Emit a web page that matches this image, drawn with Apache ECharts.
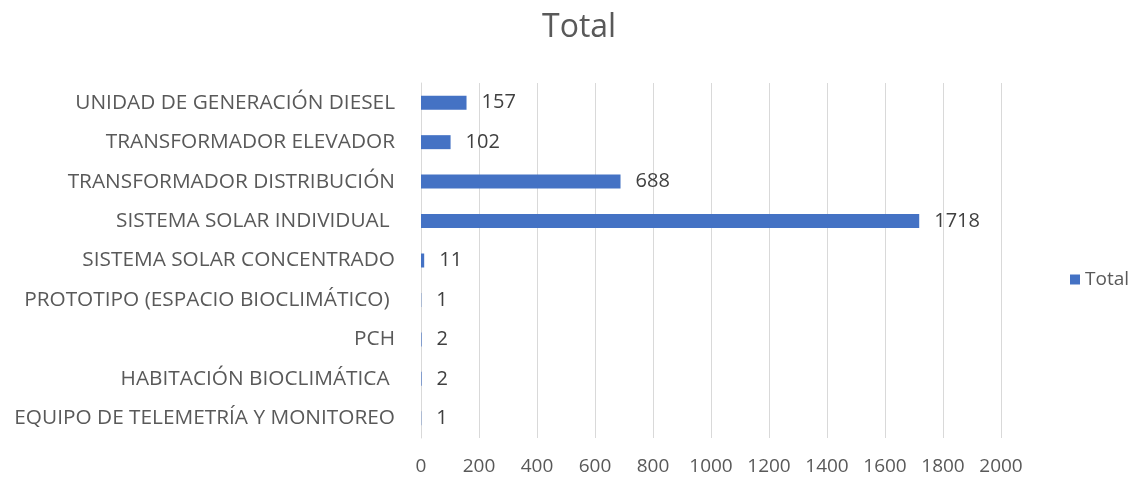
<!doctype html>
<html lang="es">
<head>
    <meta charset="UTF-8">
    <title>Total</title>
    <style>
        *{
            margin:0;
            padding:0;
        }
        html,body {
            height:100%;
            background:#fff;
        }
        #main{
            width:1134px;
            height:478px;
        }
    </style>
</head>
<body>

<div id="main"></div>
<script src="https://cdn.jsdelivr.net/npm/echarts@6/dist/echarts.min.js"></script>
<script>

    // categories listed bottom to top (category axis starts at the bottom)
    var categories = [
        'EQUIPO DE TELEMETRÍA Y MONITOREO',
        'HABITACIÓN BIOCLIMÁTICA ',
        'PCH',
        'PROTOTIPO (ESPACIO BIOCLIMÁTICO) ',
        'SISTEMA SOLAR CONCENTRADO',
        'SISTEMA SOLAR INDIVIDUAL ',
        'TRANSFORMADOR DISTRIBUCIÓN',
        'TRANSFORMADOR ELEVADOR',
        'UNIDAD DE GENERACIÓN DIESEL'
    ];
    var totals = [1, 2, 2, 1, 11, 1718, 688, 102, 157];

    var font = '"Open Sans", "Noto Sans", sans-serif';

    var myChart = echarts.init(document.getElementById('main'));

    myChart.setOption({
        animation: false,
        title: {
            text: 'Total',
            left: 537,
            top: 7,
            textStyle: {
                fontFamily: font,
                fontSize: 32,
                fontWeight: 'normal',
                color: '#595959'
            }
        },
        legend: {
            orient: 'vertical',
            left: 1065,
            top: 265,
            itemWidth: 10,
            itemHeight: 10,
            itemGap: 6,
            icon: 'rect',
            data: ['Total'],
            textStyle: {
                fontFamily: font,
                fontSize: 19,
                color: '#595959'
            }
        },
        grid: {
            left: 421,
            right: 133,
            top: 83,
            bottom: 40
        },
        xAxis: {
            type: 'value',
            min: 0,
            max: 2000,
            interval: 200,
            axisLine: { show: false },
            axisTick: { show: false },
            splitLine: {
                lineStyle: { color: '#d9d9d9', width: 1 }
            },
            axisLabel: {
                margin: 19,
                fontFamily: font,
                fontSize: 19,
                color: '#595959',
                formatter: function (v) { return String(v); }
            }
        },
        yAxis: {
            type: 'category',
            data: categories,
            axisLine: {
                show: true,
                lineStyle: { color: '#d9d9d9' }
            },
            axisTick: { show: false },
            axisLabel: {
                margin: 26,
                fontFamily: font,
                fontSize: 20.8,
                color: '#595959'
            }
        },
        series: [{
            name: 'Total',
            type: 'bar',
            data: totals,
            barWidth: 14,
            itemStyle: {
                color: '#4472c4'
            },
            label: {
                show: true,
                position: 'right',
                distance: 15,
                fontFamily: font,
                fontSize: 20,
                color: '#404040'
            }
        }]
    });

</script>
</body>
</html>
